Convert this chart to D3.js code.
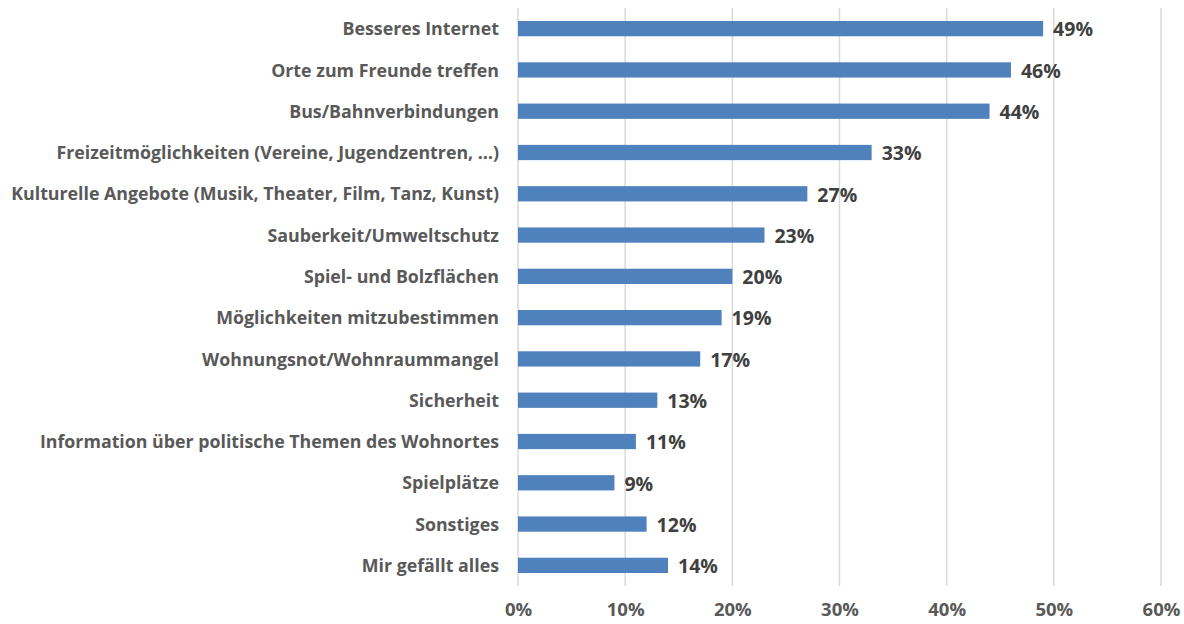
<!DOCTYPE html>
<html>
<head>
<meta charset="utf-8">
<script src="https://cdn.jsdelivr.net/npm/d3@7"></script>
<style>
  body { margin: 0; background: #fff; }
  text { font-family: "Open Sans", sans-serif; font-weight: bold; }
</style>
</head>
<body>
<svg id="chart" width="1184" height="624"></svg>
<script>
// categories top to bottom
const categories = [
  "Besseres Internet",
  "Orte zum Freunde treffen",
  "Bus/Bahnverbindungen",
  "Freizeitmöglichkeiten (Vereine, Jugendzentren, …)",
  "Kulturelle Angebote (Musik, Theater, Film, Tanz, Kunst)",
  "Sauberkeit/Umweltschutz",
  "Spiel- und Bolzflächen",
  "Möglichkeiten mitzubestimmen",
  "Wohnungsnot/Wohnraummangel",
  "Sicherheit",
  "Information über politische Themen des Wohnortes",
  "Spielplätze",
  "Sonstiges",
  "Mir gefällt alles"
];
const values = [49, 46, 44, 33, 27, 23, 20, 19, 17, 13, 11, 9, 12, 14];
const xTicks = [0, 10, 20, 30, 40, 50, 60];

const svg = d3.select("#chart");
const margin = {top: 8, left: 518, right: 23, bottom: 38};
const width = 1184, height = 624;

const x = d3.scaleLinear().domain([0, 60]).range([margin.left, width - margin.right]);
const y = d3.scaleBand().domain(categories)
  .range([margin.top, height - margin.bottom])
  .paddingInner(0.63).paddingOuter(0.315);

// vertical gridlines
svg.append("g")
  .selectAll("line")
  .data(xTicks)
  .enter().append("line")
    .attr("x1", d => x(d)).attr("x2", d => x(d))
    .attr("y1", margin.top).attr("y2", height - margin.bottom)
    .attr("stroke", "#d9d9d9")
    .attr("stroke-width", 1.5);

// bars
svg.append("g")
  .selectAll("rect")
  .data(values)
  .enter().append("rect")
    .attr("x", x(0))
    .attr("y", (d, i) => y(categories[i]))
    .attr("width", d => x(d) - x(0))
    .attr("height", y.bandwidth())
    .attr("fill", "#4f81bd");

// value labels
svg.append("g")
  .selectAll("text")
  .data(values)
  .enter().append("text")
    .attr("x", d => x(d) + 10)
    .attr("y", (d, i) => y(categories[i]) + y.bandwidth() / 2 + 1)
    .attr("dy", "0.35em")
    .attr("fill", "#404040")
    .style("font-size", "19.5px")
    .text(d => d + "%");

// category axis
const yAxis = svg.append("g")
  .attr("transform", `translate(${margin.left},1)`)
  .call(d3.axisLeft(y).tickSize(0).tickPadding(19));
yAxis.select(".domain").remove();
yAxis.selectAll("text")
  .attr("fill", "#595959")
  .style("font-size", "17.8px")
  .style("font-family", "'Open Sans', sans-serif");

// x axis labels
const xAxis = svg.append("g")
  .attr("transform", `translate(0,${height - margin.bottom})`)
  .call(d3.axisBottom(x).tickValues(xTicks).tickFormat(d => d + "%").tickSize(0).tickPadding(17));
xAxis.select(".domain").remove();
xAxis.selectAll("text")
  .attr("fill", "#595959")
  .style("font-size", "18.5px")
  .style("font-family", "'Open Sans', sans-serif");
</script>
</body>
</html>
